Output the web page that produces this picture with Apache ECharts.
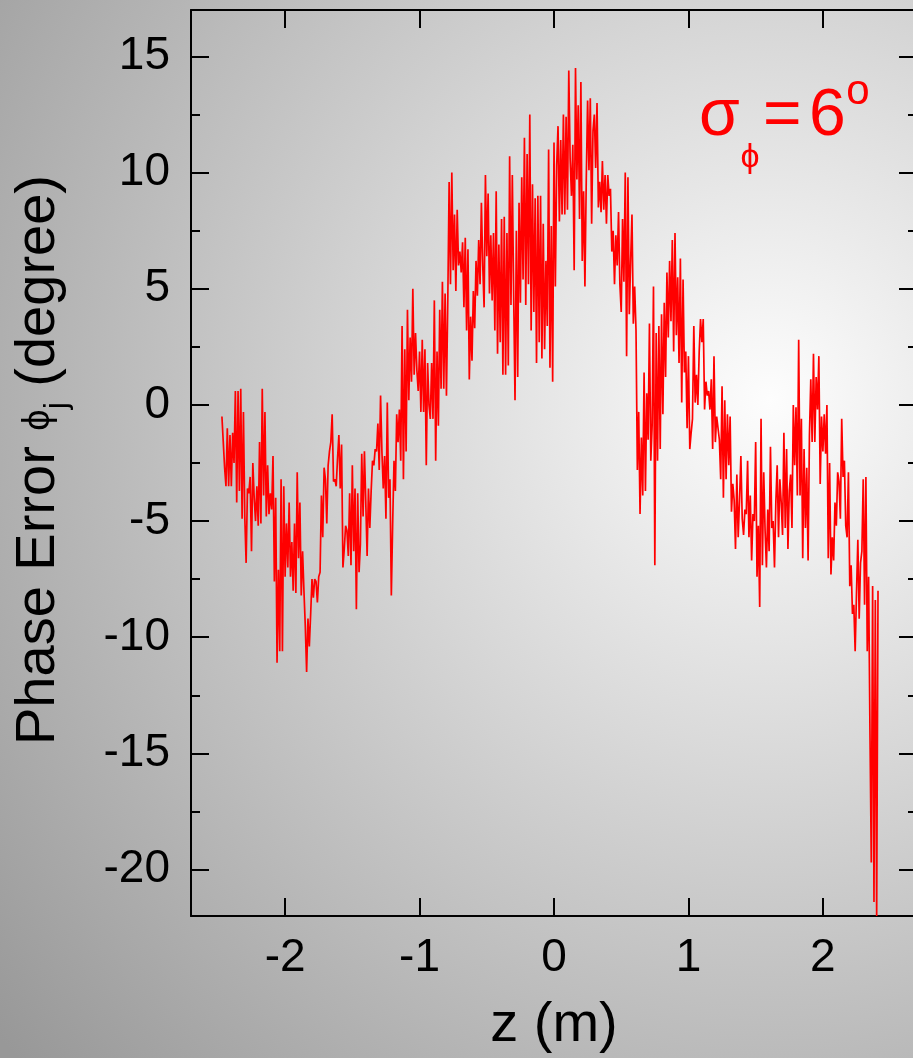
<!DOCTYPE html>
<html>
<head>
<meta charset="utf-8">
<script src="https://cdn.jsdelivr.net/npm/echarts@6/dist/echarts.min.js"></script>
<style>
html,body{margin:0;padding:0;}
#c{width:913px;height:1058px;background:radial-gradient(circle 1000px at 770px 400px,#fdfdfd 0%,#989898 100%);}
</style>
</head>
<body>
<div id="c"></div>
<script>
// sampling grid along z (m)
const zStart = -2.47;
const zStep = 0.01;

// phase error phi_j (degree)
const phaseError = [
  -0.5, -1.6, -2.7, -3.5, -1.0, -3.5, -1.3, -3.5, -1.2, -2.5,
  0.6, -4.2, 0.6, -3.7, 0.7, -4.9, -0.3, -4.8, -6.8, -3.6,
  -3.8, -3.1, -6.3, -2.5, -4.0, -5.0, -3.5, -5.2, -1.6, -5.1,
  0.7, -3.9, -0.3, -4.8, -2.6, -4.7, -3.8, -4.5, -2.2, -7.6,
  -4.0, -11.1, -7.1, -10.6, -3.2, -10.6, -3.5, -7.4, -5.1, -7.0,
  -4.2, -7.4, -5.9, -8.0, -5.1, -8.1, -2.9, -6.6, -4.2, -8.2,
  -6.3, -8.0, -9.5, -11.5, -9.2, -10.4, -9.0, -7.5, -8.3, -7.5,
  -7.6, -8.5, -7.4, -7.2, -3.9, -5.7, -2.7, -3.2, -5.1, -2.6,
  -2.0, -1.6, -0.4, -3.3, -3.2, -3.5, -2.3, -1.3, -3.6, -1.7,
  -7.0, -6.2, -5.2, -5.4, -6.5, -3.8, -6.9, -2.6, -6.3, -3.6,
  -8.8, -3.8, -7.2, -6.0, -2.1, -4.8, -2.0, -4.2, -6.5, -3.6,
  -5.3, -3.7, -2.4, -2.6, -1.9, -2.0, -0.8, -2.8, 0.4, -2.0,
  -3.6, -2.2, -4.9, 0.1, -4.0, -3.2, -8.2, -5.1, -2.4, -3.7,
  -0.4, -1.6, -0.2, -2.4, 3.4, -3.2, 2.4, -2.0, 4.1, 0.2,
  2.9, 1.0, 5.0, 1.3, 3.1, 1.5, 0.6, 2.3, -0.3, 2.8,
  -0.3, 2.4, -2.6, 1.8, 0.0, -0.6, 1.8, -0.6, 4.5, -2.4,
  2.3, -0.9, 4.1, 0.7, 5.3, 0.7, 4.8, 0.4, 4.5, 9.6,
  5.2, 10.0, 5.8, 8.2, 4.9, 8.4, 6.0, 6.6, 5.7, 7.0,
  4.2, 7.2, 3.2, 6.7, 1.1, 3.8, 1.9, 4.9, 3.3, 6.2,
  4.7, 7.1, 5.2, 8.7, 6.0, 4.2, 9.9, 6.4, 9.1, 4.8,
  7.3, 4.5, 7.4, 3.2, 9.2, 2.2, 6.9, 2.7, 8.0, 1.3,
  8.1, 1.3, 7.4, 1.7, 10.7, 4.3, 9.9, 4.7, 0.2, 7.5,
  1.2, 8.7, 4.4, 9.8, 5.4, 11.5, 4.3, 10.8, 5.2, 12.5,
  3.2, 9.5, 4.0, 8.9, 1.8, 9.0, 2.7, 9.0, 2.0, 7.8,
  2.4, 6.2, 3.4, 11.0, 1.6, 7.7, 1.0, 11.3, 5.1, 10.3,
  12.0, 7.9, 11.4, 8.2, 12.5, 8.2, 12.4, 8.4, 14.4, 10.6,
  9.0, 11.2, 5.8, 14.5, 9.7, 12.9, 8.0, 13.9, 6.2, 9.2,
  5.1, 9.7, 13.1, 10.1, 13.2, 7.8, 11.8, 12.5, 10.2, 13.0,
  8.5, 9.6, 8.3, 10.5, 8.4, 9.9, 7.8, 9.9, 9.0, 9.3,
  6.6, 7.5, 5.2, 7.3, 6.0, 8.3, 5.2, 4.0, 8.0, 5.3,
  10.0, 2.1, 9.8, 3.9, 6.2, 8.2, 3.5, 5.1, 3.2, -2.8,
  -0.3, -4.7, -1.4, -3.9, 1.4, -3.7, 0.5, -1.5, 3.5, -2.4,
  -0.9, 5.1, -6.9, 3.1, -2.4, 3.4, -1.9, 3.9, -0.4, 4.4,
  1.2, 5.7, 2.9, 6.2, 3.6, 7.1, 2.3, 7.4, 3.0, 5.5,
  1.8, 6.3, 0.1, 5.4, 1.4, 2.3, -1.0, 2.1, -1.9, -1.2,
  -0.6, 3.4, 0.1, 1.3, 0.0, 2.3, 3.7, 2.7, 3.7, -0.2,
  1.0, 0.4, 0.6, -0.2, 1.1, -1.9, 2.1, -1.6, -0.5, -0.5,
  -1.5, -3.2, 0.8, -4.0, 0.2, -3.2, -0.4, -2.6, -0.5, -4.6,
  -3.4, -4.1, -6.2, -3.0, -5.7, -4.1, -2.2, -4.9, -5.6, -4.5,
  -4.7, -2.4, -5.7, -3.9, -6.7, -4.7, -5.0, -1.6, -7.4, -5.2,
  -8.7, -0.6, -6.9, -2.9, -5.4, -7.0, -4.5, -6.3, -1.8, -5.3,
  -5.0, -7.0, -4.2, -2.6, -5.7, -3.2, -4.2, -5.6, -1.2, -5.3,
  -1.9, -6.2, -3.7, -3.0, -5.3, 0.0, -2.6, -0.1, -3.9, 2.8,
  -3.9, -0.6, -6.6, -1.9, -5.3, -2.7, -6.7, -1.3, 1.1, -1.6,
  2.2, -1.6, 1.2, -0.2, 2.1, -3.4, -0.5, -2.0, -0.4, -2.1,
  0.0, -6.6, -2.5, -7.3, -5.7, -6.7, -4.2, -5.2, -2.9, -3.3,
  -4.9, -0.6, -3.1, -2.4, -5.2, -5.7, -2.9, -7.8, -6.9, -9.0,
  -8.6, -10.6, -8.1, -5.8, -9.2, -6.8, -6.3, -3.2, -8.6, -3.1,
  -10.6, -7.4, -14.0, -19.7, -7.8, -21.4, -8.4, -22.0, -8.0
];

// axis ranges and tick labels
const xRange = [-2.7, 2.7];
const yRange = [-22, 17];
const xTickValues = [-2, -1, 0, 1, 2];
const yTickValues = [-20, -15, -10, -5, 0, 5, 10, 15];
const yMinorTickValues = [-17.5, -12.5, -7.5, -2.5, 2.5, 7.5, 12.5];

const seriesData = phaseError.map((v, i) => [Number((zStart + i * zStep).toFixed(3)), v]);

const FONT = "'Liberation Sans', Arial, Helvetica, sans-serif";
const BLACK = '#000000';
const RED = '#ff0000';

function xAxisDef(pos, showLabel) {
  return {
    type: 'value', position: pos, min: xRange[0], max: xRange[1],
    axisLine: { show: true, onZero: false, lineStyle: { color: BLACK, width: 2 } },
    axisTick: { show: true, inside: true, length: 18, customValues: xTickValues, lineStyle: { color: BLACK, width: 2 } },
    axisLabel: { show: showLabel, customValues: xTickValues, fontSize: 46, fontFamily: FONT, color: BLACK, margin: 19, lineHeight: 46 },
    splitLine: { show: false }
  };
}
function yAxisDef(pos, ticks, len, showLine, showLabel) {
  return {
    type: 'value', position: pos, offset: 0, min: yRange[0], max: yRange[1],
    axisLine: { show: showLine, onZero: false, lineStyle: { color: BLACK, width: 2 } },
    axisTick: { show: true, inside: true, length: len, customValues: ticks, lineStyle: { color: BLACK, width: 2 } },
    axisLabel: { show: showLabel, customValues: ticks, fontSize: 46, fontFamily: FONT, color: BLACK, margin: 21 },
    splitLine: { show: false }
  };
}

const chart = echarts.init(document.getElementById('c'), null, { renderer: 'canvas' });
chart.setOption({
  animation: false,
  backgroundColor: 'transparent',
  grid: { left: 191, top: 10, width: 726, height: 906, outerBoundsMode: 'none', containLabel: false },
  xAxis: [xAxisDef('bottom', true), xAxisDef('top', false)],
  yAxis: [
    yAxisDef('left', yTickValues, 18, true, true),
    yAxisDef('left', yMinorTickValues, 9, false, false),
    yAxisDef('right', yTickValues, 18, true, false),
    yAxisDef('right', yMinorTickValues, 9, false, false)
  ],
  series: [{
    type: 'line', xAxisIndex: 0, yAxisIndex: 0,
    data: seriesData, showSymbol: false, symbol: 'none', clip: true,
    lineStyle: { color: RED, width: 1.7 }
  }],
  graphic: [
    { type: 'text', x: 39, y: 460, rotation: Math.PI / 2,
      style: { text: '{a|Phase Error }{p|ϕ}{s|j}{a| (degree)}', align: 'center', verticalAlign: 'middle', fill: BLACK,
        rich: {
          a: { fontSize: 56, fontFamily: FONT, lineHeight: 68, fill: BLACK },
          p: { fontSize: 38, fontFamily: FONT, lineHeight: 68, fill: BLACK },
          s: { fontSize: 32, fontFamily: FONT, lineHeight: 44, verticalAlign: 'bottom', fill: BLACK }
        } } },
    { type: 'text', x: 554, y: 1026, style: { text: 'z (m)', fontSize: 56, fontFamily: FONT, fill: BLACK, align: 'center', verticalAlign: 'middle' } },
    { type: 'text', x: 699, y: 117, style: { text: 'σ', fontSize: 66, fontFamily: FONT, fill: RED, align: 'left', verticalAlign: 'middle' } },
    { type: 'text', x: 750, y: 158, style: { text: 'ϕ', fontSize: 34, fontFamily: FONT, fill: RED, align: 'center', verticalAlign: 'middle' } },
    { type: 'text', x: 763, y: 117, style: { text: '=', fontSize: 66, fontFamily: FONT, fill: RED, align: 'left', verticalAlign: 'middle' } },
    { type: 'text', x: 809, y: 117, style: { text: '6', fontSize: 66, fontFamily: FONT, fill: RED, align: 'left', verticalAlign: 'middle' } },
    { type: 'text', x: 858, y: 92, style: { text: 'o', fontSize: 42, fontFamily: FONT, fill: RED, align: 'center', verticalAlign: 'middle' } }
  ]
});
</script>
</body>
</html>
